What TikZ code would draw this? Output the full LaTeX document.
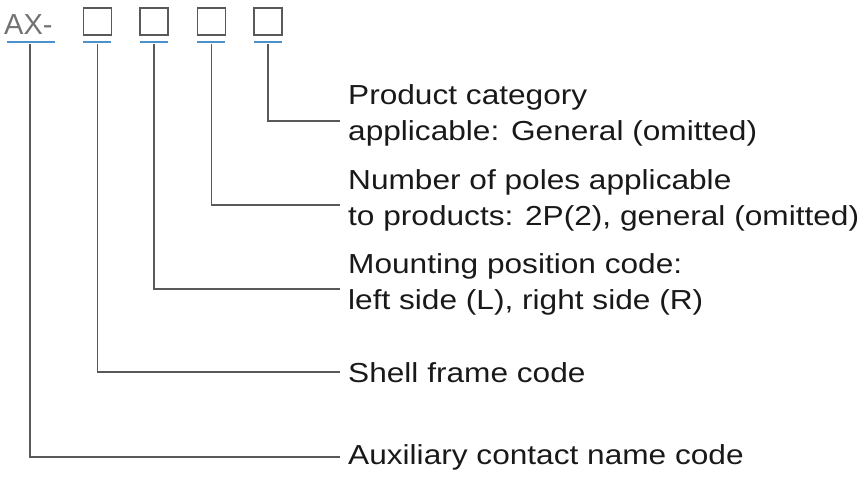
\documentclass[tikz,border=0pt]{standalone}
\usepackage{fontspec}
\setmainfont{Liberation Sans}
\newfontfamily\wide{Liberation Sans}[FakeStretch=1.15]
\begin{document}
\begin{tikzpicture}[x=1pt,y=-1pt,
  ln/.style={draw=black!65,line width=1.3pt},
  ul/.style={draw=blue!45!cyan!70!black,line width=1.6pt,opacity=0.7},
  bx/.style={draw=black!65,line width=1.8pt,minimum width=28pt,minimum height=27pt,inner sep=0},
  lbl/.style={anchor=west,font=\wide\fontsize{27.5}{36}\selectfont,text=black!90,align=left,inner sep=0}]
\useasboundingbox (0,0) rectangle (868,478);
\node[anchor=base west,inner sep=0,text=black!55,font=\fontsize{29}{30}\selectfont] (ax) at (4,35) {AX-};
\node[bx] (b1) at (97.5,21.5) {};
\node[bx] (b2) at (154,21.5) {};
\node[bx] (b3) at (211.5,21.5) {};
\node[bx] (b4) at (268,21.5) {};
\foreach \x in {83,140,197,254} \draw[ul] (\x,42) -- ++(28,0);
\draw[ul] (7,42) -- (55,42);
\node[lbl] (t4) at (348,115) {Product category\\applicable: General (omitted)};
\node[lbl] (t3) at (348,200) {Number of poles applicable\\to products: 2P(2), general (omitted)};
\node[lbl] (t2) at (348,284) {Mounting position code:\\left side (L), right side (R)};
\node[lbl] (t1) at (348,373) {Shell frame code};
\node[lbl] (t0) at (348,457) {Auxiliary contact name code};
\coordinate (c4) at (340,121);
\coordinate (c3) at (340,205);
\coordinate (c2) at (340,289);
\coordinate (c1) at (340,372);
\coordinate (c0) at (340,457);
\draw[ln] (268,44) |- (c4);
\draw[ln] (211.5,44) |- (c3);
\draw[ln] (154,44) |- (c2);
\draw[ln] (97.5,44) |- (c1);
\draw[ln] (30,44) |- (c0);
\end{tikzpicture}
\end{document}
